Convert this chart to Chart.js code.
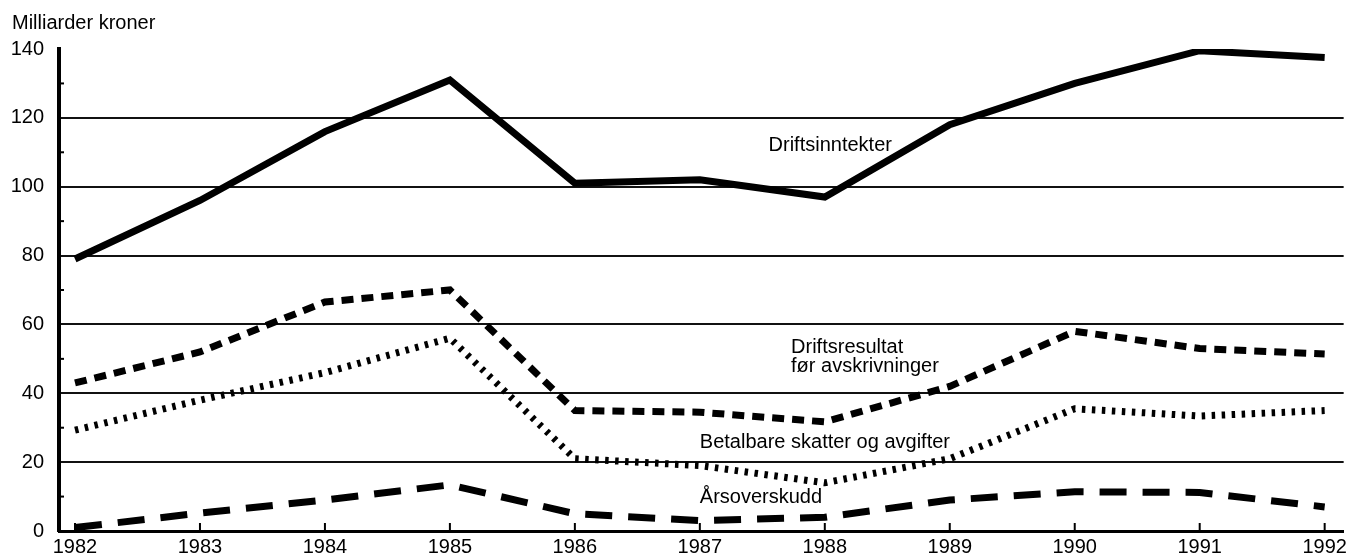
<!DOCTYPE html>
<html>
<head>
<meta charset="utf-8">
<script src="https://cdn.jsdelivr.net/npm/chart.js@4"></script>
<style>
  html, body { margin: 0; padding: 0; background: #fff; }
  #wrap { width: 1351px; height: 558px; position: relative; }
</style>
</head>
<body>
<div id="wrap"><canvas id="chart"></canvas></div>
<script>
// Data
const years = [1982, 1983, 1984, 1985, 1986, 1987, 1988, 1989, 1990, 1991, 1992]
const driftsinntekter = [79, 96, 116, 131, 101, 102, 97, 118, 130, 139.5, 137.5]
const driftsresultat = [43, 52, 66.5, 70, 35, 34.5, 31.7, 42, 58, 53, 51.4]
const betalbare = [29.3, 38, 46, 56, 21, 19, 14, 21, 35.5, 33.4, 35]
const arsoverskudd = [1, 5.2, 9, 13.4, 5, 3, 4, 9, 11.4, 11.2, 7]
const yTicks = [0, 20, 40, 60, 80, 100, 120, 140]
const yMinorTicks = [10, 30, 50, 70, 90, 110, 130]

// Series labels placed in data coordinates [year, value]
const seriesLabels = [
  { text: "Driftsinntekter", at: [1987.55, 112] },
  { text: "Driftsresultat", at: [1987.73, 53.3] },
  { text: "før avskrivninger", at: [1987.73, 47.8] },
  { text: "Betalbare skatter og avgifter", at: [1987.0, 25.8] },
  { text: "Årsoverskudd", at: [1987.0, 9.6] },
]

const FONT = '"Liberation Sans", Arial, Helvetica, sans-serif'
const INK = "#000"

const toPoints = (vals) => vals.map((v, i) => ({ x: years[i], y: v }))

const decorations = {
  id: "decorations",
  afterDatasetsDraw(chart) {
    const { ctx, scales } = chart
    const x = scales.x
    const y = scales.y
    ctx.save()
    ctx.strokeStyle = INK
    // minor ticks on the y axis
    ctx.lineWidth = 2
    yMinorTicks.forEach((v) => {
      const py = y.getPixelForValue(v)
      ctx.beginPath()
      ctx.moveTo(x.left, py)
      ctx.lineTo(x.left + 5, py)
      ctx.stroke()
    })
    // year ticks pointing up from the x axis
    years.forEach((yr) => {
      const px = x.getPixelForValue(yr)
      ctx.beginPath()
      ctx.moveTo(px, y.bottom)
      ctx.lineTo(px, y.bottom - 8)
      ctx.stroke()
    })
    // series labels
    ctx.fillStyle = INK
    ctx.font = "20px " + FONT
    ctx.textAlign = "left"
    ctx.textBaseline = "middle"
    seriesLabels.forEach((l) => {
      ctx.fillText(l.text, x.getPixelForValue(l.at[0]), y.getPixelForValue(l.at[1]))
    })
    // unit title
    ctx.fillText("Milliarder kroner", 12, 23)
    ctx.restore()
  },
}

const ctx = document.getElementById("chart").getContext("2d")
new Chart(ctx, {
  type: "line",
  data: {
    datasets: [
      { label: "Driftsinntekter", data: toPoints(driftsinntekter), borderWidth: 7, borderDash: [] },
      { label: "Driftsresultat før avskrivninger", data: toPoints(driftsresultat), borderWidth: 7, borderDash: [12, 8] },
      { label: "Betalbare skatter og avgifter", data: toPoints(betalbare), borderWidth: 7, borderDash: [3.5, 6.5] },
      { label: "Årsoverskudd", data: toPoints(arsoverskudd), borderWidth: 7, borderDash: [27, 16] },
    ].map((d) => ({ ...d, borderColor: INK, pointRadius: 0, tension: 0, fill: false, borderCapStyle: "butt", borderJoinStyle: "miter" })),
  },
  options: {
    responsive: true,
    maintainAspectRatio: false,
    animation: false,
    layout: { padding: { top: 49, right: 6, left: 0, bottom: 0 } },
    plugins: { legend: { display: false }, tooltip: { enabled: false } },
    scales: {
      x: {
        type: "linear",
        min: 1981.872,
        max: 1992.152,
        afterBuildTicks: (s) => { s.ticks = years.map((v) => ({ value: v })) },
        afterFit: (s) => { s.height = 27 },
        grid: { display: false, drawTicks: false },
        border: { display: true, color: INK, width: 3 },
        ticks: { color: INK, font: { family: FONT, size: 20 }, padding: 4, maxRotation: 0, callback: (v) => String(v) },
      },
      y: {
        min: 0,
        max: 140,
        afterBuildTicks: (s) => { s.ticks = yTicks.map((v) => ({ value: v })) },
        afterFit: (s) => { s.width = 59 },
        grid: {
          drawTicks: false,
          lineWidth: 2,
          color: (c) => (c.tick && (c.tick.value === 140 || c.tick.value === 0) ? "rgba(0,0,0,0)" : "#111"),
        },
        border: { display: true, color: INK, width: 4 },
        ticks: { color: INK, font: { family: FONT, size: 20 }, padding: 15 },
      },
    },
  },
  plugins: [decorations],
})
</script>
</body>
</html>
